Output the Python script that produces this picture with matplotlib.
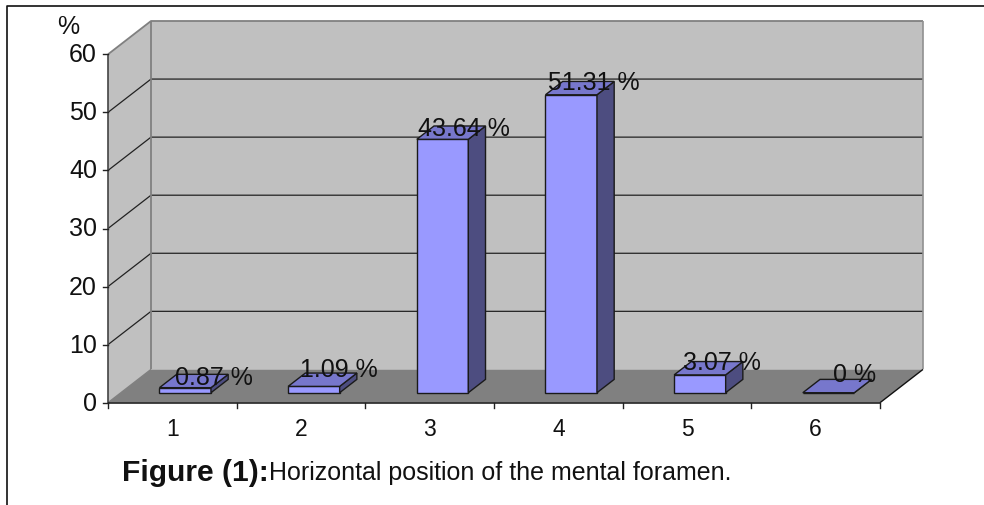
import matplotlib
matplotlib.use("Agg")
import matplotlib.pyplot as plt

plt.rcParams['font.family'] = ['Liberation Sans', 'DejaVu Sans']

categories = [1, 2, 3, 4, 5, 6]
values = [0.87, 1.09, 43.64, 51.31, 3.07, 0]
bar_labels = ['0.87 %', '1.09 %', '43.64 %', '51.31 %', '3.07 %', '0 %']
yticks = [0, 10, 20, 30, 40, 50, 60]
y_title = '%'
caption_bold = 'Figure (1):'
caption_rest = 'Horizontal position of the mental foramen.'

# pixel nudges of the data labels relative to the bar's category and back top edge
label_dx = [42, 38, 34, 35, 35, 39]
label_dy = [-3, 4, -2, -1, 0, 5]

W, H = 984, 506
fig = plt.figure(figsize=(W / 100, H / 100), dpi=100, facecolor='white')

# pixel box of the front plane of the 3-D chart
L, R, T, B = 108, 880, 55.3, 403.7
ax = fig.add_axes([L / W, 1 - B / H, (R - L) / W, (B - T) / H])
ax.set_xlim(0.5, 6.5)
ax.set_ylim(0, 60)
ax.axis('off')

PX = (R - L) / 6          # pixels per category
PY = (B - T) / 60         # pixels per value unit
DX, DY = 43 / PX, 33.3 / PY # full depth of the box in data units


def pr(x, y, d=0.0):
    return x + d * DX, y + d * DY


def poly(pts, fc, ec='none', lw=0.0, z=1):
    xs, ys = zip(*[pr(*p) for p in pts])
    ax.fill(xs, ys, facecolor=fc, edgecolor=ec, linewidth=lw, zorder=z,
            clip_on=False, joinstyle='miter')


def line(pts, c, lw, z=2):
    xs, ys = zip(*[pr(*p) for p in pts])
    ax.plot(xs, ys, color=c, lw=lw, zorder=z, clip_on=False,
            solid_capstyle='butt')


x0, x1 = 0.5, 6.5
top = yticks[-1]
wall = '#c0c0c0'
edge = '#808080'

# walls and floor
poly([(x0, 0, 1), (x1, 0, 1), (x1, top, 1), (x0, top, 1)], wall)
poly([(x0, 0, 0), (x0, 0, 1), (x0, top, 1), (x0, top, 0)], wall)
poly([(x0, 0, 0), (x1, 0, 0), (x1, 0, 1), (x0, 0, 1)], '#808080')

# gridlines
for v in yticks[1:-1]:
    line([(x0, v, 0), (x0, v, 1), (x1, v, 1)], '#222222', 0.9)
line([(x0, top, 0), (x0, top, 1), (x1, top, 1)], edge, 1.3)
line([(x0, 0, 1), (x0, top, 1)], edge, 1.3)
line([(x1, 0, 1), (x1, top, 1)], '#909090', 1.2)
line([(x1, 0, 0), (x1, 0, 1)], '#111111', 1.0)
line([(x0, 0, 0), (x0, 0, 1)], edge, 1.0)

# axes and ticks
line([(x0, 0, 0), (x0, top, 0)], '#444444', 1.2, z=3)
line([(x0, 0, 0), (x1, 0, 0)], '#222222', 1.2, z=3)
for v in yticks:
    ax.plot([x0 - 5 / PX, x0], [v, v], color='#222222', lw=1.0, clip_on=False, zorder=3)
    ax.text(x0 - 11 / PX, v, str(v), ha='right', va='center', fontsize=18, color='#111111')
for i in range(len(categories) + 1):
    xt = x0 + i
    ax.plot([xt, xt], [0, -5 / PY], color='#222222', lw=1.0, clip_on=False, zorder=3)
for c in categories:
    ax.text(c, -26 / PY, str(c), ha='center', va='center', fontsize=16.5, color='#111111')
ax.text(x0 - 40 / PX, top + 28.5 / PY, y_title, ha='center', va='center', fontsize=18, color='#111111')

# bars
front_col, side_col, top_col = '#9999ff', '#4d4d80', '#7777cc'
bw = 51.5 / PX
d0, d1 = 0.30, 0.70
z = 5
for c, v, lab, ldx, ldy in zip(categories, values, bar_labels, label_dx, label_dy):
    a = c - bw / 2 + 0
    b = c + bw / 2
    poly([(a, 0, d0), (b, 0, d0), (b, v, d0), (a, v, d0)], front_col, '#1a1a1a', 1.0, z)
    poly([(b, 0, d0), (b, 0, d1), (b, v, d1), (b, v, d0)], side_col, '#1a1a1a', 1.0, z)
    poly([(a, v, d0), (b, v, d0), (b, v, d1), (a, v, d1)], top_col, '#1a1a1a', 1.0, z)
    _, ty = pr(c, v, d1)
    ax.text(c + ldx / PX, ty + ldy / PY, lab, ha='center', va='center', fontsize=18,
            color='#111111', zorder=6, clip_on=False)

# caption
t = fig.text(122 / W, 1 - 473 / H, caption_bold, fontsize=21.6, fontweight='bold',
             ha='left', va='center', color='#111111')
fig.canvas.draw()
ext = t.get_window_extent()
fig.text(ext.x1 / W, 1 - 473 / H, caption_rest, fontsize=18, ha='left', va='center', color='#111111')

# outer frame: left and top edges only
fig.add_artist(plt.Line2D([6.5 / W, 6.5 / W, 1],
                          [0, 1 - 6.5 / H, 1 - 6.5 / H],
                          color='#111111', lw=1.2, transform=fig.transFigure))

fig.savefig('out.png', dpi=100, facecolor='white')
